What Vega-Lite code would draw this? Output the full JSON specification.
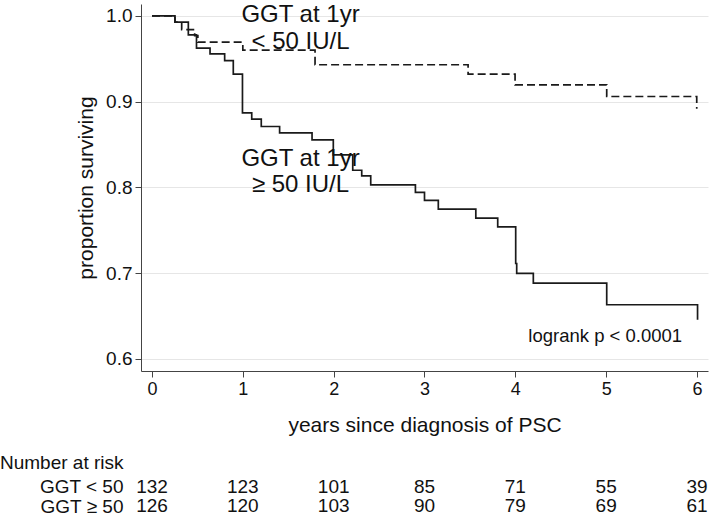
{
  "$schema": "https://vega.github.io/schema/vega-lite/v6.json",
  "background": "white",
  "padding": {"left": 0, "top": 3, "right": 1, "bottom": 0},
  "config": {
    "view": {"stroke": null},
    "font": "Liberation Sans",
    "axis": {"labelFont": "Liberation Sans", "titleFont": "Liberation Sans", "labelColor": "#111", "titleColor": "#111", "titleFontWeight": "normal", "domainColor": "#444", "tickColor": "#444"},
    "title": {"font": "Liberation Sans", "fontWeight": "normal", "color": "#111"}
  },
  "spacing": 19,
  "vconcat": [
    {
      "width": 567,
      "height": 367,
      "layer": [
        {
          "data": {"values": [
            {"group": "GGT < 50", "t": 0, "s": 1.0},
            {"group": "GGT < 50", "t": 0.253, "s": 0.9927},
            {"group": "GGT < 50", "t": 0.327, "s": 0.984},
            {"group": "GGT < 50", "t": 0.47, "s": 0.977},
            {"group": "GGT < 50", "t": 0.505, "s": 0.9693},
            {"group": "GGT < 50", "t": 1.0, "s": 0.96},
            {"group": "GGT < 50", "t": 1.795, "s": 0.943},
            {"group": "GGT < 50", "t": 3.48, "s": 0.932},
            {"group": "GGT < 50", "t": 3.997, "s": 0.9196},
            {"group": "GGT < 50", "t": 5.006, "s": 0.906},
            {"group": "GGT < 50", "t": 5.997, "s": 0.8916},
            {"group": "GGT ≥ 50", "t": 0, "s": 1.0},
            {"group": "GGT ≥ 50", "t": 0.253, "s": 0.9927},
            {"group": "GGT ≥ 50", "t": 0.4, "s": 0.9779},
            {"group": "GGT ≥ 50", "t": 0.49, "s": 0.9624},
            {"group": "GGT ≥ 50", "t": 0.639, "s": 0.9557},
            {"group": "GGT ≥ 50", "t": 0.8, "s": 0.9479},
            {"group": "GGT ≥ 50", "t": 0.895, "s": 0.932},
            {"group": "GGT ≥ 50", "t": 0.996, "s": 0.887},
            {"group": "GGT ≥ 50", "t": 1.098, "s": 0.8796},
            {"group": "GGT ≥ 50", "t": 1.203, "s": 0.871},
            {"group": "GGT ≥ 50", "t": 1.405, "s": 0.8636},
            {"group": "GGT ≥ 50", "t": 1.762, "s": 0.8555},
            {"group": "GGT ≥ 50", "t": 1.996, "s": 0.838},
            {"group": "GGT ≥ 50", "t": 2.21, "s": 0.82},
            {"group": "GGT ≥ 50", "t": 2.309, "s": 0.8135},
            {"group": "GGT ≥ 50", "t": 2.408, "s": 0.803},
            {"group": "GGT ≥ 50", "t": 2.9, "s": 0.7943},
            {"group": "GGT ≥ 50", "t": 3.0, "s": 0.7848},
            {"group": "GGT ≥ 50", "t": 3.152, "s": 0.7747},
            {"group": "GGT ≥ 50", "t": 3.565, "s": 0.7642},
            {"group": "GGT ≥ 50", "t": 3.806, "s": 0.754},
            {"group": "GGT ≥ 50", "t": 4.004, "s": 0.7113},
            {"group": "GGT ≥ 50", "t": 4.015, "s": 0.6997},
            {"group": "GGT ≥ 50", "t": 4.198, "s": 0.6885},
            {"group": "GGT ≥ 50", "t": 5.006, "s": 0.6632},
            {"group": "GGT ≥ 50", "t": 6.006, "s": 0.6457}
          ]},
          "mark": {"type": "line", "interpolate": "step-after", "strokeWidth": 1.7, "color": "#1a1a1a"},
          "encoding": {
            "x": {"field": "t", "type": "quantitative",
              "scale": {"domain": [-0.121, 6.121], "nice": false, "zero": false},
              "axis": {"values": [0, 1, 2, 3, 4, 5, 6], "format": "d", "grid": false, "tickSize": 6, "labelPadding": 3, "labelFontSize": 18, "title": "years since diagnosis of PSC", "titleFontSize": 21, "titlePadding": 16}},
            "y": {"field": "s", "type": "quantitative",
              "scale": {"domain": [0.586, 1.0138], "nice": false, "zero": false},
              "axis": {"values": [0.6, 0.7, 0.8, 0.9, 1.0], "format": ".1f", "grid": true, "gridColor": "#e6e6e6", "tickSize": 6, "labelPadding": 3, "labelFontSize": 19, "title": "proportion surviving", "titleFontSize": 21, "titlePadding": 9}},
            "strokeDash": {"field": "group", "type": "nominal", "scale": {"domain": ["GGT < 50", "GGT ≥ 50"], "range": [[8, 4], [1, 0]]}, "legend": null}
          }
        },
        {
          "data": {"values": [
            {"t": 1.635, "s": 1.0005, "label": "GGT at 1yr"},
            {"t": 1.635, "s": 0.9695, "label": "< 50 IU/L"},
            {"t": 1.635, "s": 0.8335, "label": "GGT at 1yr"},
            {"t": 1.635, "s": 0.8025, "label": "≥ 50 IU/L"}
          ]},
          "mark": {"type": "text", "fontSize": 24, "color": "#111", "align": "center", "baseline": "middle"},
          "encoding": {
            "x": {"field": "t", "type": "quantitative"},
            "y": {"field": "s", "type": "quantitative"},
            "text": {"field": "label"}
          }
        },
        {
          "data": {"values": [{"t": 4.99, "s": 0.627, "label": "logrank p < 0.0001"}]},
          "mark": {"type": "text", "fontSize": 18.5, "color": "#111", "align": "center", "baseline": "middle"},
          "encoding": {
            "x": {"field": "t", "type": "quantitative"},
            "y": {"field": "s", "type": "quantitative"},
            "text": {"field": "label"}
          }
        }
      ]
    },
    {
      "width": 567,
      "height": 39,
      "title": {"text": "Number at risk", "anchor": "start", "frame": "group", "dx": -141, "fontSize": 19, "offset": 4},
      "data": {"values": [
        {"group": "GGT < 50", "year": 0, "n": 132},
        {"group": "GGT < 50", "year": 1, "n": 123},
        {"group": "GGT < 50", "year": 2, "n": 101},
        {"group": "GGT < 50", "year": 3, "n": 85},
        {"group": "GGT < 50", "year": 4, "n": 71},
        {"group": "GGT < 50", "year": 5, "n": 55},
        {"group": "GGT < 50", "year": 6, "n": 39},
        {"group": "GGT ≥ 50", "year": 0, "n": 126},
        {"group": "GGT ≥ 50", "year": 1, "n": 120},
        {"group": "GGT ≥ 50", "year": 2, "n": 103},
        {"group": "GGT ≥ 50", "year": 3, "n": 90},
        {"group": "GGT ≥ 50", "year": 4, "n": 79},
        {"group": "GGT ≥ 50", "year": 5, "n": 69},
        {"group": "GGT ≥ 50", "year": 6, "n": 61}
      ]},
      "mark": {"type": "text", "fontSize": 19, "color": "#111", "baseline": "middle"},
      "encoding": {
        "x": {"field": "year", "type": "quantitative", "scale": {"domain": [-0.121, 6.121], "nice": false, "zero": false}, "axis": null},
        "y": {"field": "group", "type": "nominal", "sort": ["GGT < 50", "GGT ≥ 50"], "scale": {"type": "point", "padding": 0.5},
          "axis": {"domain": false, "ticks": false, "tickSize": 0, "labelFontSize": 19, "labelPadding": 18, "title": null}},
        "text": {"field": "n", "type": "quantitative"}
      }
    }
  ]
}
